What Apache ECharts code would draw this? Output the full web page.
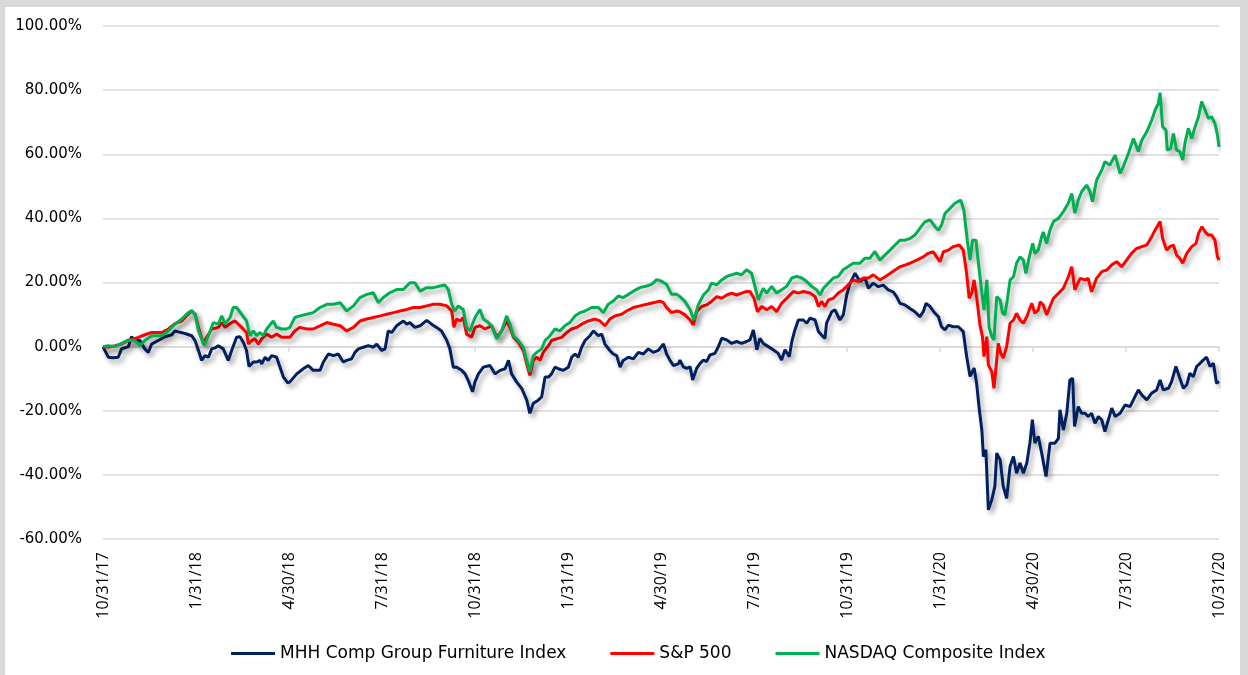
<!DOCTYPE html>
<html>
<head>
<meta charset="utf-8">
<title>MHH Comp Group Furniture Index vs S&P 500 vs NASDAQ</title>
<script src="https://cdn.jsdelivr.net/npm/echarts@6/dist/echarts.min.js"></script>
<style>
  html, body { margin: 0; padding: 0; background: #d9d9d9; }
  #frame { position: absolute; left: 5px; top: 7px; width: 1235px; height: 668px; background: #ffffff; }
  #chart { position: absolute; left: 0; top: 0; width: 1248px; height: 675px; }
</style>
</head>
<body>
<div id="frame"></div>
<div id="chart"></div>
<script>
// x = months after 10/31/17, y = cumulative return in %
var xTickLabels = ['10/31/17', '1/31/18', '4/30/18', '7/31/18', '10/31/18', '1/31/19', '4/30/19',
    '7/31/19', '10/31/19', '1/31/20', '4/30/20', '7/31/20', '10/31/20'];

var seriesNames = ['MHH Comp Group Furniture Index', 'S&P 500', 'NASDAQ Composite Index'];

var mhhFurniture = [
    [0, 0], [0.17, -3.3], [0.33, -3.5], [0.49, -3.3], [0.60, -0.7], [0.82, 0], [0.92, 3.1], [1.03, 1.9],
    [1.19, 1.9], [1.35, -0.7], [1.46, -1.8], [1.57, 0.8], [1.78, 1.9], [2.00, 3.1], [2.22, 3.7], [2.32, 4.9],
    [2.43, 4.6], [2.65, 4.1], [2.86, 3.4], [2.97, 1.9], [3.08, -1.2], [3.18, -4.3], [3.29, -2.8], [3.40, -3.3],
    [3.51, -0.7], [3.61, -0.4], [3.72, 0.3], [3.88, -0.7], [4.04, -4.3], [4.15, -1.2], [4.31, 2.9], [4.42, 3.1],
    [4.53, 1.3], [4.63, -1.2], [4.71, -6.2], [4.85, -4.8], [4.96, -4.8], [5.06, -4.3], [5.12, -5.4], [5.23, -3.3],
    [5.33, -4.3], [5.44, -2.8], [5.60, -3.3], [5.71, -6.4], [5.82, -9.5], [5.96, -11.3], [6.03, -11.0],
    [6.25, -8.5], [6.46, -6.9], [6.62, -5.9], [6.78, -7.4], [7.00, -7.4], [7.11, -4.8], [7.27, -2.3],
    [7.43, -2.8], [7.59, -2.3], [7.75, -4.8], [7.86, -4.3], [8.02, -3.8], [8.13, -1.8], [8.24, -0.7],
    [8.40, -0.2], [8.56, 0.3], [8.72, -0.2], [8.83, 0.8], [8.99, -1.2], [9.10, -0.7], [9.20, 4.9], [9.31, 4.4],
    [9.47, 6.5], [9.69, 8.0], [9.80, 7.0], [9.90, 7.5], [10.06, 6.0], [10.23, 6.5], [10.44, 8.2], [10.60, 7.0],
    [10.76, 6.0], [10.92, 4.9], [11.09, 1.9], [11.19, -0.7], [11.30, -6.4], [11.41, -6.4], [11.57, -7.4],
    [11.68, -8.5], [11.78, -10.5], [11.92, -14.1], [12.00, -11.0], [12.11, -8.5], [12.27, -6.4], [12.48, -5.9],
    [12.65, -8.5], [12.81, -7.4], [12.97, -6.9], [13.08, -4.3], [13.18, -8.5], [13.34, -11.0], [13.51, -13.1],
    [13.67, -16.7], [13.77, -20.8], [13.88, -17.7], [14.04, -16.7], [14.15, -15.7], [14.26, -9.5],
    [14.37, -9.5], [14.47, -8.5], [14.58, -6.4], [14.69, -6.9], [14.85, -7.4], [15.01, -6.4], [15.12, -3.3],
    [15.23, -2.3], [15.33, -3.3], [15.44, -0.2], [15.55, 1.9], [15.71, 3.4], [15.82, 4.9], [15.98, 3.4],
    [16.09, 3.9], [16.19, 0.8], [16.35, -1.2], [16.46, -2.3], [16.57, -2.8], [16.68, -6.4], [16.78, -4.3],
    [16.95, -3.3], [17.11, -3.8], [17.27, -1.8], [17.43, -2.3], [17.59, -0.7], [17.75, -1.8], [17.91, -1.2],
    [18.08, 0.8], [18.18, -2.3], [18.29, -4.3], [18.40, -5.9], [18.56, -5.4], [18.61, -4.2], [18.72, -6.3],
    [18.83, -6.8], [18.94, -6.3], [19.02, -10.4], [19.15, -6.8], [19.26, -5.2], [19.37, -4.2], [19.47, -4.7],
    [19.58, -2.6], [19.74, -2.1], [19.85, 0], [19.96, 2.6], [20.12, 2.1], [20.28, 1.0], [20.44, 1.6],
    [20.60, 1.0], [20.76, 1.6], [20.87, 2.1], [20.98, 5.2], [21.09, -1.0], [21.19, 2.6], [21.30, 1.0],
    [21.46, 0], [21.62, -1.0], [21.78, -2.1], [21.89, -4.2], [22.00, -1.0], [22.14, -3.1], [22.22, 1.6],
    [22.32, 5.2], [22.43, 8.3], [22.59, 8.3], [22.70, 7.3], [22.81, 8.9], [22.97, 8.3], [23.08, 4.7],
    [23.18, 3.6], [23.29, 2.6], [23.34, 7.3], [23.51, 10.9], [23.61, 11.5], [23.77, 8.3], [23.88, 9.9],
    [23.99, 16.1], [24.10, 19.8], [24.26, 22.9], [24.42, 20.3], [24.58, 21.4], [24.69, 18.2], [24.85, 19.8],
    [25.01, 18.7], [25.17, 19.2], [25.33, 17.7], [25.49, 17.1], [25.60, 15.6], [25.71, 13.5], [25.87, 13.0],
    [26.03, 11.9], [26.19, 10.9], [26.35, 9.3], [26.46, 10.9], [26.55, 13.5], [26.68, 12.5], [26.84, 10.4],
    [26.95, 9.3], [27.05, 6.2], [27.16, 5.2], [27.27, 6.7], [27.43, 6.2], [27.59, 6.2], [27.75, 4.7],
    [27.86, -3.1], [27.97, -9.3], [28.10, -6.7], [28.18, -11.4], [28.27, -19.7], [28.35, -26.0], [28.40, -34.3],
    [28.48, -32.2], [28.56, -50.9], [28.67, -47.8], [28.77, -43.6], [28.83, -33.2], [28.94, -35.3],
    [29.04, -43.6], [29.15, -47.3], [29.26, -37.4], [29.37, -34.3], [29.47, -39.5], [29.58, -36.3],
    [29.69, -39.5], [29.80, -36.3], [29.90, -30.1], [29.98, -22.8], [30.06, -30.1], [30.17, -28.0],
    [30.28, -33.2], [30.42, -40.5], [30.55, -30.1], [30.71, -30.1], [30.82, -28.6], [30.87, -19.7],
    [30.98, -26.0], [31.09, -20.8], [31.19, -10.4], [31.28, -9.9], [31.34, -24.9], [31.46, -18.7],
    [31.57, -20.8], [31.68, -20.8], [31.78, -21.8], [31.89, -20.8], [32.00, -23.9], [32.11, -21.8],
    [32.22, -22.9], [32.32, -26.5], [32.43, -22.9], [32.54, -19.2], [32.65, -21.8], [32.81, -20.8],
    [32.97, -18.2], [33.13, -18.7], [33.29, -15.6], [33.40, -13.5], [33.51, -15.1], [33.67, -16.6],
    [33.83, -14.5], [33.99, -13.5], [34.10, -10.4], [34.20, -13.5], [34.37, -13.0], [34.47, -10.9],
    [34.61, -6.2], [34.72, -9.4], [34.85, -13.0], [34.96, -11.9], [35.06, -8.3], [35.17, -9.4], [35.28, -6.2],
    [35.39, -5.2], [35.49, -4.2], [35.60, -3.3], [35.71, -6.2], [35.82, -5.2], [35.92, -11.4], [36.00, -10.9]
];

var sp500 = [
    [0, 0], [0.17, -0.2], [0.39, 0.3], [0.60, 0.8], [0.82, 1.9], [1.14, 2.9], [1.35, 3.7], [1.57, 4.4],
    [1.89, 4.4], [2.11, 5.5], [2.32, 7.2], [2.54, 8.0], [2.75, 10.1], [2.86, 11.1], [2.97, 10.1], [3.08, 6.0],
    [3.24, 0.8], [3.34, 2.9], [3.51, 5.5], [3.72, 6.0], [3.83, 7.5], [3.94, 6.0], [4.15, 7.5], [4.26, 8.0],
    [4.47, 6.0], [4.63, 4.4], [4.69, 0.8], [4.80, 1.9], [4.90, 2.4], [5.01, 0.8], [5.12, 2.4], [5.28, 3.9],
    [5.44, 2.9], [5.60, 3.9], [5.76, 2.9], [6.03, 2.9], [6.19, 4.9], [6.35, 6.0], [6.57, 5.5], [6.78, 5.5],
    [7.00, 6.5], [7.22, 7.5], [7.43, 7.0], [7.65, 6.5], [7.86, 4.9], [8.08, 6.0], [8.29, 8.0], [8.51, 8.6],
    [8.72, 9.1], [8.94, 9.6], [9.15, 10.1], [9.37, 10.6], [9.58, 11.1], [9.80, 11.6], [10.01, 12.2],
    [10.23, 12.2], [10.44, 12.7], [10.66, 13.2], [10.87, 13.2], [11.09, 12.7], [11.25, 11.1], [11.32, 6.0],
    [11.41, 8.6], [11.52, 8.0], [11.62, 9.1], [11.73, 3.9], [11.89, 2.9], [12.00, 6.0], [12.16, 6.5],
    [12.32, 5.5], [12.43, 6.0], [12.54, 6.5], [12.70, 2.9], [12.86, 4.9], [13.02, 8.0], [13.13, 6.0],
    [13.24, 2.9], [13.40, 1.3], [13.56, -1.2], [13.67, -5.4], [13.77, -9.0], [13.88, -4.3], [13.99, -3.3],
    [14.10, -4.3], [14.20, -1.8], [14.37, 0.3], [14.47, 1.9], [14.63, 2.4], [14.80, 2.9], [14.96, 4.4],
    [15.12, 5.5], [15.28, 6.0], [15.44, 7.0], [15.66, 8.0], [15.87, 8.6], [16.03, 8.0], [16.19, 6.5],
    [16.35, 8.6], [16.52, 9.6], [16.73, 10.1], [16.89, 11.1], [17.11, 12.2], [17.32, 12.7], [17.54, 13.2],
    [17.75, 13.7], [17.97, 14.2], [18.08, 13.7], [18.18, 12.2], [18.34, 10.6], [18.51, 11.1], [18.61, 10.9],
    [18.77, 9.9], [18.94, 8.3], [19.04, 6.8], [19.15, 10.9], [19.31, 12.5], [19.47, 13.0], [19.63, 14.1],
    [19.80, 15.6], [19.96, 15.1], [20.12, 16.1], [20.28, 16.7], [20.44, 16.1], [20.60, 16.7], [20.76, 17.2],
    [20.87, 17.2], [21.00, 15.1], [21.11, 10.9], [21.25, 12.5], [21.41, 11.5], [21.57, 12.5], [21.73, 10.9],
    [21.89, 13.5], [22.11, 15.6], [22.27, 17.2], [22.43, 16.7], [22.59, 17.2], [22.81, 16.7], [22.97, 15.6],
    [23.08, 12.5], [23.18, 14.1], [23.29, 12.5], [23.40, 14.6], [23.56, 15.1], [23.72, 16.7], [23.88, 17.7],
    [24.04, 19.3], [24.20, 20.8], [24.37, 20.3], [24.53, 21.4], [24.69, 21.4], [24.85, 22.4], [24.90, 22.3],
    [25.06, 20.8], [25.23, 21.8], [25.39, 22.8], [25.55, 23.9], [25.71, 24.9], [25.87, 25.4], [26.03, 26.0],
    [26.25, 27.0], [26.46, 28.0], [26.62, 29.1], [26.78, 29.6], [26.89, 28.0], [27.00, 26.5], [27.11, 29.6],
    [27.27, 30.1], [27.43, 31.2], [27.62, 31.7], [27.75, 30.1], [27.86, 22.8], [27.94, 15.1], [28.02, 16.6],
    [28.10, 20.8], [28.18, 15.6], [28.29, 6.7], [28.37, 3.1], [28.42, -3.1], [28.51, 3.1], [28.56, -5.7],
    [28.67, -7.8], [28.74, -13.0], [28.81, -6.2], [28.88, 1.0], [28.96, -2.1], [29.04, -3.6], [29.15, 0],
    [29.26, 7.3], [29.37, 8.3], [29.47, 10.4], [29.58, 8.3], [29.69, 7.3], [29.80, 9.3], [29.96, 13.5],
    [30.06, 10.4], [30.17, 11.4], [30.23, 14.0], [30.33, 13.0], [30.44, 9.9], [30.55, 12.5], [30.66, 15.1],
    [30.82, 16.6], [30.98, 18.2], [31.14, 21.8], [31.25, 24.9], [31.35, 17.7], [31.52, 21.3], [31.68, 20.8],
    [31.78, 21.3], [31.89, 17.1], [32.05, 21.3], [32.22, 23.4], [32.38, 23.9], [32.54, 25.5], [32.70, 26.5],
    [32.86, 24.9], [33.02, 27.0], [33.18, 29.1], [33.34, 30.6], [33.51, 31.2], [33.67, 31.7], [33.83, 34.3],
    [33.94, 36.4], [34.10, 39.0], [34.18, 33.8], [34.31, 30.1], [34.42, 31.2], [34.53, 31.7], [34.63, 28.6],
    [34.74, 27.5], [34.83, 26.0], [34.96, 29.1], [35.12, 31.2], [35.26, 32.2], [35.34, 35.3], [35.45, 37.4],
    [35.55, 35.8], [35.66, 34.8], [35.76, 34.8], [35.87, 33.2], [35.95, 28.1], [36.00, 27.0]
];

var nasdaq = [
    [0, 0], [0.17, 0.3], [0.39, 0], [0.60, 1.0], [0.82, 2.1], [1.03, 1.9], [1.19, 0.3], [1.35, 1.9],
    [1.57, 3.4], [1.89, 3.4], [2.11, 4.9], [2.32, 7.0], [2.54, 8.6], [2.75, 10.6], [2.86, 11.3], [2.97, 10.1],
    [3.08, 4.9], [3.27, 0.3], [3.40, 3.4], [3.56, 7.5], [3.72, 7.0], [3.83, 9.6], [3.94, 7.0], [4.10, 9.1],
    [4.20, 12.2], [4.31, 12.2], [4.47, 10.1], [4.63, 8.0], [4.74, 3.4], [4.85, 4.9], [4.96, 3.4], [5.06, 4.4],
    [5.17, 3.4], [5.28, 5.5], [5.49, 8.0], [5.60, 6.0], [5.76, 5.5], [5.92, 5.5], [6.03, 6.0], [6.19, 9.1],
    [6.35, 9.6], [6.57, 10.1], [6.78, 10.6], [7.00, 12.2], [7.22, 13.2], [7.43, 13.2], [7.65, 13.7],
    [7.86, 11.1], [8.08, 12.7], [8.29, 15.3], [8.51, 16.3], [8.72, 16.8], [8.88, 13.7], [9.04, 15.3],
    [9.25, 16.8], [9.47, 17.8], [9.69, 17.8], [9.90, 19.9], [10.06, 19.9], [10.23, 17.3], [10.44, 18.4],
    [10.66, 18.4], [10.87, 18.9], [11.03, 19.2], [11.14, 17.8], [11.25, 13.2], [11.35, 11.1], [11.46, 12.7],
    [11.62, 11.6], [11.73, 6.0], [11.84, 4.9], [12.00, 9.1], [12.16, 11.6], [12.27, 8.6], [12.43, 7.5],
    [12.54, 6.5], [12.70, 2.4], [12.86, 4.9], [13.02, 9.6], [13.13, 7.0], [13.24, 3.4], [13.40, 1.9],
    [13.56, -0.2], [13.67, -4.3], [13.77, -7.9], [13.88, -2.8], [13.99, -1.8], [14.15, -0.7], [14.26, 1.9],
    [14.42, 3.4], [14.58, 5.5], [14.74, 4.9], [14.90, 6.5], [15.06, 7.5], [15.23, 9.6], [15.39, 10.6],
    [15.55, 11.1], [15.76, 12.2], [15.98, 12.2], [16.14, 10.6], [16.30, 13.2], [16.46, 14.2], [16.62, 15.8],
    [16.78, 15.3], [16.95, 16.3], [17.11, 17.3], [17.32, 18.4], [17.54, 18.9], [17.70, 19.4], [17.86, 20.9],
    [18.02, 20.4], [18.18, 19.4], [18.34, 16.3], [18.51, 16.3], [18.61, 15.6], [18.77, 14.1], [18.94, 11.5],
    [19.06, 8.3], [19.20, 13.0], [19.37, 16.1], [19.53, 17.7], [19.63, 19.8], [19.80, 19.3], [19.96, 20.8],
    [20.12, 21.9], [20.28, 22.4], [20.44, 22.9], [20.60, 22.4], [20.76, 24.0], [20.92, 22.9], [21.03, 18.8],
    [21.14, 14.6], [21.30, 18.2], [21.41, 16.7], [21.57, 18.8], [21.73, 16.7], [21.89, 17.7], [22.05, 18.8],
    [22.22, 21.4], [22.38, 21.9], [22.54, 21.4], [22.70, 20.3], [22.86, 18.8], [23.02, 17.7], [23.13, 16.1],
    [23.24, 18.2], [23.40, 19.8], [23.56, 21.4], [23.72, 21.9], [23.88, 24.0], [24.04, 25.0], [24.20, 26.0],
    [24.42, 26.0], [24.58, 27.6], [24.74, 27.6], [24.90, 29.7], [25.06, 27.0], [25.23, 28.6], [25.39, 30.1],
    [25.55, 31.7], [25.71, 33.2], [25.87, 33.2], [26.03, 33.7], [26.19, 34.8], [26.35, 36.9], [26.51, 38.9],
    [26.68, 39.5], [26.84, 37.4], [26.95, 36.3], [27.05, 37.9], [27.16, 41.5], [27.32, 43.1], [27.48, 44.7],
    [27.67, 45.7], [27.77, 42.6], [27.88, 33.2], [27.97, 27.0], [28.05, 33.2], [28.16, 33.2], [28.24, 26.0],
    [28.34, 17.7], [28.42, 11.4], [28.51, 20.8], [28.58, 6.2], [28.67, 3.1], [28.74, 2.1], [28.83, 15.6],
    [28.94, 14.5], [29.02, 10.4], [29.09, 9.9], [29.17, 14.5], [29.26, 20.8], [29.37, 21.8], [29.47, 26.0],
    [29.58, 28.0], [29.69, 27.0], [29.77, 22.8], [29.88, 28.0], [29.99, 32.2], [30.06, 29.1], [30.17, 30.1],
    [30.28, 34.3], [30.33, 35.8], [30.44, 32.2], [30.55, 36.4], [30.66, 39.0], [30.82, 40.0], [30.98, 42.1],
    [31.14, 44.7], [31.25, 47.8], [31.35, 41.6], [31.46, 45.7], [31.57, 48.3], [31.73, 50.4], [31.84, 48.3],
    [31.92, 45.2], [32.05, 51.9], [32.22, 55.1], [32.32, 57.7], [32.48, 56.6], [32.65, 59.7], [32.81, 54.0],
    [32.91, 56.1], [33.08, 60.3], [33.24, 64.9], [33.40, 60.8], [33.51, 64.4], [33.67, 67.0], [33.83, 70.6],
    [33.94, 73.8], [34.04, 75.8], [34.10, 79.2], [34.18, 68.6], [34.29, 67.5], [34.33, 61.3], [34.44, 61.8],
    [34.53, 66.5], [34.63, 61.3], [34.74, 60.8], [34.83, 58.2], [34.90, 63.4], [35.01, 68.1], [35.12, 64.9],
    [35.23, 68.6], [35.34, 71.7], [35.44, 76.4], [35.55, 73.8], [35.66, 71.2], [35.76, 71.7], [35.87, 69.6],
    [35.95, 66.0], [36.00, 62.3]
];

var colors = ['#002060', '#ff0000', '#00b050'];

var chart = echarts.init(document.getElementById('chart'));

function lineSeries(name, data, color) {
    return {
        name: name,
        type: 'line',
        xAxisIndex: 0,
        data: data,
        showSymbol: false,
        symbol: 'none',
        color: color,
        lineStyle: {
            width: 3,
            color: color,
            shadowColor: 'rgba(0, 0, 0, 0.35)',
            shadowBlur: 5,
            shadowOffsetX: 3,
            shadowOffsetY: 4
        },
        animation: false
    };
}

var option = {
    animation: false,
    grid: { left: 103, right: 29, top: 26, bottom: 136 },
    legend: {
        left: 226,
        top: 640,
        icon: 'rect',
        itemWidth: 44,
        itemHeight: 3,
        itemGap: 44,
        textStyle: { fontFamily: 'DejaVu Sans', fontSize: 17, color: '#000' },
        data: seriesNames
    },
    xAxis: [
        {
            // labels along the bottom
            type: 'value',
            min: 0,
            max: 36,
            interval: 3,
            axisLine: { show: false, onZero: false },
            axisTick: { show: false },
            splitLine: { show: false },
            axisLabel: {
                rotate: 90,
                margin: 13,
                fontFamily: 'Open Sans',
                fontSize: 16,
                color: '#000',
                formatter: function (v) { return xTickLabels[Math.round(v / 3)]; }
            }
        },
        {
            // axis line + ticks sitting on 0%
            type: 'value',
            position: 'bottom',
            min: 0,
            max: 36,
            interval: 3,
            axisLine: { show: true, onZero: true, lineStyle: { color: '#d9d9d9', width: 1.5 } },
            axisTick: { show: true, length: 5, lineStyle: { color: '#d9d9d9', width: 1.5 } },
            axisLabel: { show: false },
            splitLine: { show: false }
        }
    ],
    yAxis: {
        type: 'value',
        min: -60,
        max: 100,
        interval: 20,
        axisLine: { show: false },
        axisTick: { show: false },
        splitLine: { lineStyle: { color: '#d9d9d9', width: 1.5 } },
        axisLabel: {
            margin: 21,
            fontFamily: 'DejaVu Sans',
            fontSize: 15,
            color: '#000',
            formatter: function (v) { return v.toFixed(2) + '%'; }
        }
    },
    series: [
        lineSeries(seriesNames[0], mhhFurniture, colors[0]),
        lineSeries(seriesNames[1], sp500, colors[1]),
        lineSeries(seriesNames[2], nasdaq, colors[2])
    ]
};

chart.setOption(option);
</script>
</body>
</html>
